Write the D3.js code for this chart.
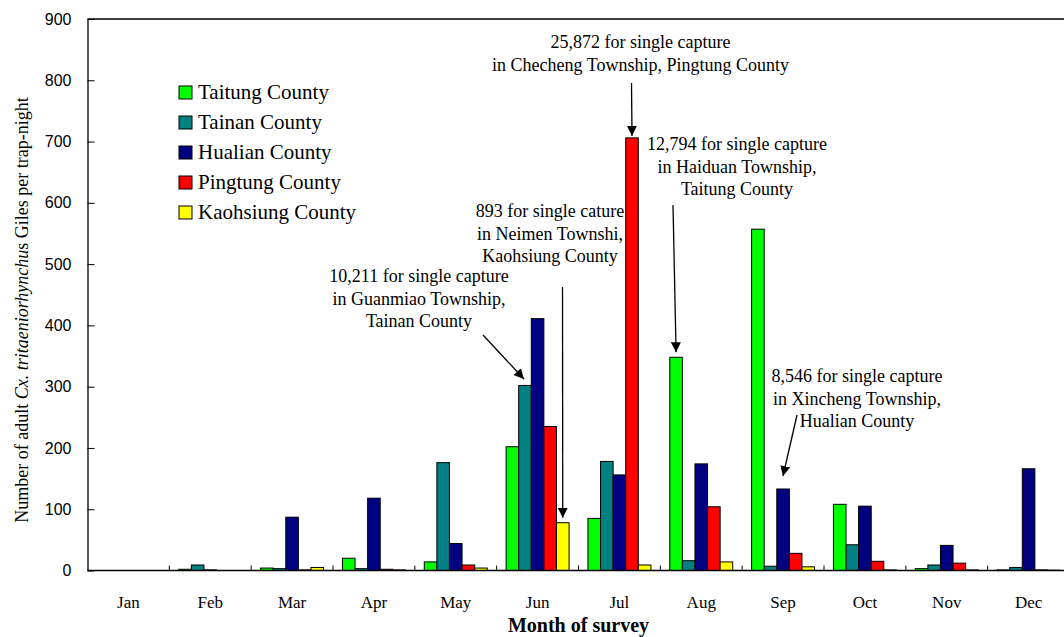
<!DOCTYPE html>
<html>
<head>
<meta charset="utf-8">
<script src="https://cdnjs.cloudflare.com/ajax/libs/d3/7.8.5/d3.min.js"></script>
<style>
  body { margin: 0; background: #fff; }
  svg { display: block; }
  .serif { font-family: "Liberation Serif", "Times New Roman", serif; }
</style>
</head>
<body>
<svg id="chart"></svg>
<script>
var screen = {width: 1064, height: 637}
var plot = {left: 87.5, right: 1069.5, top: 19, bottom: 570.5}

// data
var months = ["Jan", "Feb", "Mar", "Apr", "May", "Jun", "Jul", "Aug", "Sep", "Oct", "Nov", "Dec"]
var series = ["Taitung County", "Tainan County", "Hualian County", "Pingtung County", "Kaohsiung County"]
var colors = ["#00ff00", "#008080", "#000080", "#ff0000", "#ffff00"]

var taitung   = [0, 2, 4, 20, 14, 202, 85, 348, 557, 108, 3, 1]
var tainan    = [0, 9, 3, 3, 176, 302, 178, 16, 7, 42, 9, 5]
var hualian   = [0, 1, 87, 118, 44, 411, 156, 174, 133, 105, 41, 166]
var pingtung  = [0, 0, 1, 2, 9, 235, 706, 104, 28, 15, 12, 1]
var kaohsiung = [0, 0, 5, 1, 4, 78, 9, 14, 6, 1, 1, 0.5]
var yTicks = [0, 100, 200, 300, 400, 500, 600, 700, 800, 900]

var values = [taitung, tainan, hualian, pingtung, kaohsiung]

// annotations: lines, centre x, first baseline
var notes = [
    {lines: ["25,872 for single capture", "in Checheng Township, Pingtung County"], cx: 640.5, y: 48},
    {lines: ["12,794 for single capture", "in Haiduan Township,", "Taitung County"], cx: 737, y: 150},
    {lines: ["893 for single cature", "in Neimen Townshi,", "Kaohsiung County"], cx: 550, y: 217},
    {lines: ["10,211 for single capture", "in Guanmiao Township,", "Tainan County"], cx: 419, y: 282},
    {lines: ["8,546 for single capture", "in Xincheng Township,", "Hualian County"], cx: 857, y: 382}
]

var svg = d3.select("#chart")
    .attr("width", screen.width)
    .attr("height", screen.height)

svg.append("defs").append("marker")
    .attr("id", "head")
    .attr("viewBox", "0 0 10 10")
    .attr("refX", 10).attr("refY", 5)
    .attr("markerWidth", 10).attr("markerHeight", 10)
    .attr("markerUnits", "userSpaceOnUse")
    .attr("orient", "auto")
    .append("path")
    .attr("d", "M0,0 L10,5 L0,10 z")
    .attr("fill", "#000")

var xScale = d3.scaleBand()
    .domain(months)
    .range([plot.left, plot.right])
    .padding(0)

var xSeries = d3.scaleBand()
    .domain(series)
    .range([0, xScale.bandwidth()])
    .paddingInner(0)
    .paddingOuter(0.75)

var yScale = d3.scaleLinear()
    .domain([0, 900])
    .range([plot.bottom, plot.top])

// bars
var groups = svg.append("g").attr("id", "bars")
    .selectAll("g")
    .data(series)
    .enter()
    .append("g")
    .attr("fill", function(s, i) { return colors[i] })

groups.selectAll("rect")
    .data(function(s, i) {
        return values[i].map(function(v, m) { return {series: s, month: months[m], value: v} })
    })
    .enter()
    .append("rect")
    .attr("x", function(d) { return xScale(d.month) + xSeries(d.series) })
    .attr("y", function(d) { return yScale(d.value) })
    .attr("width", xSeries.bandwidth())
    .attr("height", function(d) { return yScale(0) - yScale(d.value) })
    .attr("stroke", "#000")
    .attr("stroke-width", 1)

// top of the frame
svg.append("line")
    .attr("x1", plot.left).attr("x2", screen.width)
    .attr("y1", plot.top).attr("y2", plot.top)
    .attr("stroke", "#000").attr("stroke-width", 1.3)

// y axis
var yAxis = d3.axisLeft(yScale)
    .tickValues(yTicks)
    .tickSize(-7)
    .tickSizeOuter(0)
    .tickPadding(16)
    .tickFormat(d3.format("d"))

var yg = svg.append("g")
    .attr("transform", "translate(" + plot.left + ",0)")
    .call(yAxis)
yg.select(".domain").attr("stroke-width", 1.3)
yg.selectAll("text")
    .attr("font-family", "'Liberation Sans', Arial, sans-serif")
    .attr("font-size", 16)
    .attr("fill", "#000")

// x axis labels
var xAxis = d3.axisBottom(xScale)
    .tickSize(0)
    .tickPadding(25)

var xg = svg.append("g")
    .attr("transform", "translate(0," + plot.bottom + ")")
    .call(xAxis)
xg.select(".domain").remove()
xg.selectAll("text")
    .attr("class", "serif")
    .attr("font-size", 17)
    .attr("fill", "#000")

// baseline and month boundary ticks
svg.append("line")
    .attr("x1", plot.left).attr("x2", screen.width)
    .attr("y1", plot.bottom).attr("y2", plot.bottom)
    .attr("stroke", "#000").attr("stroke-width", 1.3)

svg.append("g").selectAll("line")
    .data(months.slice(1))
    .enter()
    .append("line")
    .attr("x1", function(m) { return xScale(m) })
    .attr("x2", function(m) { return xScale(m) })
    .attr("y1", plot.bottom)
    .attr("y2", plot.bottom - 5)
    .attr("stroke", "#000")

// axis titles
svg.append("text")
    .attr("class", "serif")
    .attr("x", (plot.left + plot.right) / 2)
    .attr("y", 632)
    .attr("text-anchor", "middle")
    .attr("font-size", 20)
    .attr("font-weight", "bold")
    .text("Month of survey")

var yTitle = svg.append("text")
    .attr("class", "serif")
    .attr("transform", "translate(28,310) rotate(-90)")
    .attr("text-anchor", "middle")
    .attr("font-size", 18)
yTitle.append("tspan").text("Number of adult ")
yTitle.append("tspan").attr("font-style", "italic").text("Cx. tritaeniorhynchu")
yTitle.append("tspan").text("s Giles per trap-night")

// legend
var legend = svg.append("g")
    .attr("transform", "translate(179,86)")

var items = legend.selectAll("g")
    .data(series)
    .enter()
    .append("g")
    .attr("transform", function(s, i) { return "translate(0," + (i * 30) + ")" })

items.append("rect")
    .attr("width", 13).attr("height", 13)
    .attr("fill", function(s, i) { return colors[i] })
    .attr("stroke", "#000")

items.append("text")
    .attr("class", "serif")
    .attr("x", 19)
    .attr("y", 13)
    .attr("font-size", 21)
    .text(function(s) { return s })

// annotation texts
var noteG = svg.append("g").attr("class", "serif").attr("font-size", 18)
notes.forEach(function(n) {
    n.lines.forEach(function(line, i) {
        noteG.append("text")
            .attr("x", n.cx)
            .attr("y", n.y + i * 22.5)
            .attr("text-anchor", "middle")
            .text(line)
    })
})

// arrows: start point near the text, tip on a bar top
var barTop = function(seriesIndex, month) {
    var m = months.indexOf(month)
    return {
        x: xScale(month) + xSeries(series[seriesIndex]) + xSeries.bandwidth() / 2,
        y: yScale(values[seriesIndex][m])
    }
}

var arrows = [
    {from: {x: 631.5, y: 83}, to: barTop(3, "Jul"), gap: 2},
    {from: {x: 673, y: 205}, to: barTop(0, "Aug"), gap: 5},
    {from: {x: 562.5, y: 287}, to: barTop(4, "Jun"), gap: 5},
    {from: {x: 483, y: 335}, to: {x: 524, y: 379}, gap: 0},
    {from: {x: 797, y: 415}, to: {x: 783, y: 476}, gap: 0}
]

svg.append("g").selectAll("line")
    .data(arrows)
    .enter()
    .append("line")
    .attr("x1", function(a) { return a.from.x })
    .attr("y1", function(a) { return a.from.y })
    .attr("x2", function(a) { return a.to.x })
    .attr("y2", function(a) { return a.to.y - a.gap })
    .attr("stroke", "#000")
    .attr("stroke-width", 1.3)
    .attr("marker-end", "url(#head)")
</script>
</body>
</html>
